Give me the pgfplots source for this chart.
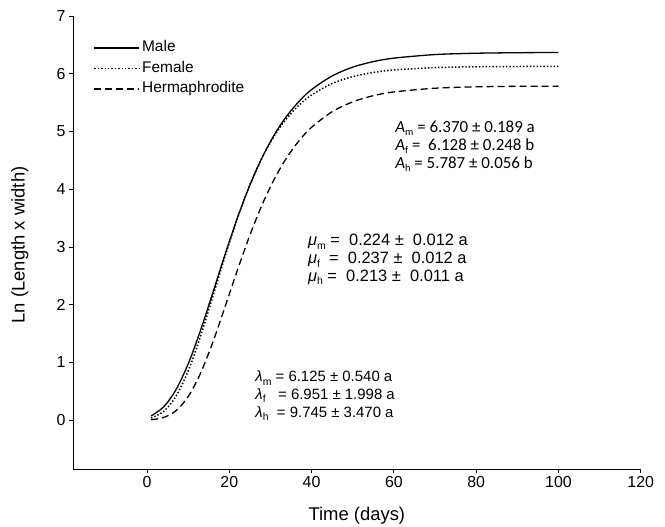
\documentclass[border=0pt]{standalone}
\usepackage{pgfplots}
\pgfplotsset{compat=1.18}
\usepackage{fontspec}
\setmainfont{Liberation Sans}
\newfontfamily\carlito{Carlito}
\newcommand{\sub}[1]{\raisebox{-0.4ex}{\fontsize{10.5}{11}\selectfont #1}}
\begin{document}
\begin{tikzpicture}[x=1bp,y=1bp]
\useasboundingbox (-73,-57.7) rectangle (592,469.3);
\begin{axis}[at={(0,0)}, anchor=south west, scale only axis,
  width=567.7bp, height=453.3bp,
  xmin=-18, xmax=120, ymin=-0.85, ymax=7,
  axis x line*=bottom, axis y line*=left,
  axis line style={-, line width=0.8bp},
  xtick={0,20,...,120}, ytick={0,1,...,7},
  tick align=outside, major tick length=4bp,
  tick style={black, line width=0.8bp},
  tick label style={font=\fontsize{16}{18}\selectfont},
  /pgf/number format/assume math mode=true,
  xlabel={Time (days)}, ylabel={Ln (Length x width)},
  label style={font=\fontsize{18.5}{20}\selectfont},
  x label style={at={(axis description cs:0.5,0)}, anchor=center, yshift=-46bp},
  y label style={at={(axis description cs:-0.0934,0.495)}, anchor=center},
  legend image code/.code={\draw[#1] (0bp,0bp) -- (38bp,0bp); \path (0bp,0bp) -- (45bp,0bp);},
  legend cell align=left,
  legend style={draw=none, fill=none, at={(0.036,0.949)}, anchor=north west,
    font=\fontsize{15.5}{17}\selectfont, inner sep=0pt, row sep=3bp,
    nodes={text height=10.5bp, text depth=3bp}},
]
\addplot[black, line width=1.3bp, smooth] coordinates {
(1,0.0754)(4,0.228)(7,0.523)(10,0.975)(13,1.557)(16,2.212)(19,2.879)(22,3.510)(25,4.072)(28,4.553)(31,4.951)(34,5.271)(37,5.526)(40,5.726)(45,5.962)(50,6.114)(55,6.210)(60,6.270)(70,6.332)(80,6.355)(90,6.364)(100,6.368)};
\addlegendentry{Male}
\addplot[black, line width=1.5bp, smooth, dash pattern=on 1.4bp off 2bp] coordinates {
(1,0.0381)(4,0.1504)(7,0.410)(10,0.852)(13,1.453)(16,2.145)(19,2.849)(22,3.505)(25,4.077)(28,4.552)(31,4.933)(34,5.231)(37,5.460)(40,5.633)(45,5.830)(50,5.950)(55,6.022)(60,6.065)(70,6.106)(80,6.120)(90,6.125)(100,6.127)};
\addlegendentry{Female}
\addplot[black, line width=1.3bp, smooth, dash pattern=on 7bp off 4bp] coordinates {
(1,0.0085)(4,0.0462)(7,0.1618)(10,0.409)(13,0.813)(16,1.352)(19,1.972)(22,2.606)(25,3.205)(28,3.736)(31,4.185)(34,4.552)(37,4.844)(40,5.073)(45,5.343)(50,5.513)(55,5.620)(60,5.685)(70,5.749)(80,5.773)(90,5.782)(100,5.785)};
\addlegendentry{Hermaphrodite}
% A block
\node[anchor=west, font=\carlito\fontsize{17}{19}\selectfont, inner sep=0] at (axis cs:60.3,5.06) {\textit{A}\sub{m} = 6.370 ± 0.189 a};
\node[anchor=west, font=\carlito\fontsize{17}{19}\selectfont, inner sep=0] at (axis cs:60.3,4.75) {\textit{A}\sub{f} =\ \ 6.128 ± 0.248 b};
\node[anchor=west, font=\carlito\fontsize{17}{19}\selectfont, inner sep=0] at (axis cs:60.3,4.44) {\textit{A}\sub{h} = 5.787 ± 0.056 b};
% mu block
\node[anchor=west, font=\fontsize{16.5}{18}\selectfont, inner sep=0] at (axis cs:39.1,3.09) {\textit{μ}\sub{m} =\ \ 0.224 ±\ \ 0.012 a};
\node[anchor=west, font=\fontsize{16.5}{18}\selectfont, inner sep=0] at (axis cs:39.1,2.78) {\textit{μ}\sub{f}\ \ =\ \ 0.237 ±\ \ 0.012 a};
\node[anchor=west, font=\fontsize{16.5}{18}\selectfont, inner sep=0] at (axis cs:39.1,2.48) {\textit{μ}\sub{h} =\ \ 0.213 ±\ \ 0.011 a};
% lambda block
\node[anchor=west, font=\fontsize{15}{17}\selectfont, inner sep=0] at (axis cs:26.3,0.73) {\textit{λ}\sub{m} = 6.125 ± 0.540 a};
\node[anchor=west, font=\fontsize{15}{17}\selectfont, inner sep=0] at (axis cs:26.3,0.42) {\textit{λ}\sub{f}\ \ \ = 6.951 ± 1.998 a};
\node[anchor=west, font=\fontsize{15}{17}\selectfont, inner sep=0] at (axis cs:26.3,0.11) {\textit{λ}\sub{h}\ \ = 9.745 ± 3.470 a};
\end{axis}
\end{tikzpicture}
\end{document}
